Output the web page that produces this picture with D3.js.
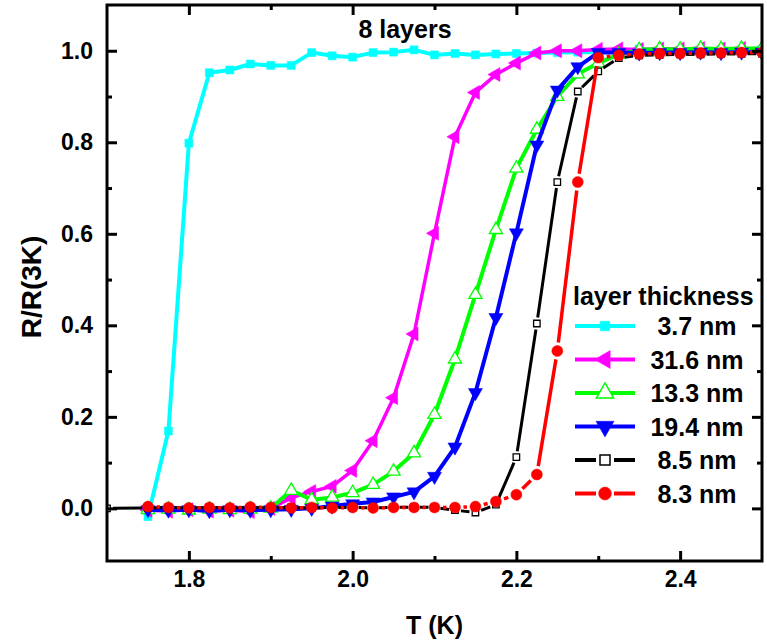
<!DOCTYPE html>
<html><head><meta charset="utf-8">
<script src="https://cdn.jsdelivr.net/npm/d3@7"></script>
<style>
body{margin:0;background:#fff}
svg{display:block}
text{font-family:"Liberation Sans",Arial,sans-serif;font-weight:bold;fill:#000}
</style>
</head><body>
<svg id="c" width="767" height="642"></svg>
<script>
// ---------------- data ----------------
const temps = [1.75,1.775,1.8,1.825,1.85,1.875,1.9,1.925,1.95,1.975,2.0,2.025,2.05,2.075,2.1,2.125,2.15,2.175,2.2,2.225,2.25,2.275,2.3,2.325,2.35,2.375,2.4,2.425,2.45,2.475,2.5];
const tempsBlack = [1.7,1.75,1.775,1.8,1.825,1.85,1.875,1.9,1.925,1.95,1.975,2.0,2.025,2.05,2.075,2.1,2.125,2.15,2.175,2.2,2.225,2.25,2.275,2.3,2.325,2.35,2.375,2.4,2.425,2.45,2.475,2.5];

const r37 = [-0.018,0.169,0.798,0.952,0.958,0.971,0.968,0.968,0.996,0.989,0.986,0.996,0.997,1.002,0.991,0.994,0.991,0.993,0.994,0.995,0.996,0.997,0.997,0.998,1.004,0.999,1.0,1.0,1.002,1.0,1.003];
const r316 = [-0.004,-0.006,-0.003,-0.006,-0.004,-0.007,0.0,0.023,0.037,0.048,0.083,0.148,0.242,0.381,0.601,0.812,0.909,0.948,0.973,0.995,1.0,1.0,1.003,1.004,1.003,1.004,1.004,1.005,1.004,1.005,1.004];
const r133 = [-0.003,-0.002,-0.004,-0.002,-0.003,-0.002,0.0,0.039,0.019,0.024,0.034,0.052,0.081,0.121,0.205,0.326,0.467,0.609,0.743,0.828,0.90,0.949,0.973,0.992,1.002,1.004,1.003,1.005,1.004,1.005,1.005];
const r194 = [-0.003,-0.004,-0.003,-0.005,-0.003,-0.004,-0.003,-0.002,0.0,0.005,0.01,0.014,0.025,0.036,0.07,0.134,0.253,0.417,0.602,0.794,0.914,0.965,0.996,0.996,0.995,0.996,0.996,0.997,0.996,0.997,0.997];
const r85 = [0.0,0.001,0.002,0.001,0.002,0.001,0.002,0.001,0.002,0.001,0.002,0.002,0.001,0.002,0.003,0.002,-0.004,-0.009,0.008,0.112,0.404,0.713,0.911,0.955,0.984,0.990,0.991,0.992,0.992,0.993,0.993,0.994];
const r83 = [0.004,0.002,0.001,0.002,0.001,0.003,0.002,0.001,0.002,0.001,0.002,0.001,0.002,0.002,0.002,0.002,0.004,0.015,0.030,0.074,0.344,0.713,0.985,0.990,0.993,0.994,0.994,0.995,0.995,0.996,0.996];

const seriesNames = ["3.7 nm","31.6 nm","13.3 nm","19.4 nm","8.5 nm","8.3 nm"];
const xTicks = [1.8,2.0,2.2,2.4];
const xMinor = [1.9,2.1,2.3];
const yTicks = [0.0,0.2,0.4,0.6,0.8,1.0];
const yMinor = [0.1,0.3,0.5,0.7,0.9];

// ---------------- setup ----------------
const svg = d3.select('#c');
const L = 107, R = 762, T = 5, B = 561;
const x = d3.scaleLinear().domain([1.7,2.5]).range([L,R]);
const y = d3.scaleLinear().domain([-0.115,1.1]).range([B,T]);

const series = [
  {name:seriesNames[0], t:temps, v:r37,  color:"#00ffff", sym:d3.symbolSquare,   rot:0,   fill:true,  size:64,  lsize:90,  lw:4,   gap:0},
  {name:seriesNames[1], t:temps, v:r316, color:"#ff00ff", sym:d3.symbolTriangle, rot:-90, fill:true,  size:85,  lsize:140, lw:3.5, gap:0},
  {name:seriesNames[2], t:temps, v:r133, color:"#00ff00", sym:d3.symbolTriangle, rot:0,   fill:false, size:75,  lsize:130, lw:4,   gap:0},
  {name:seriesNames[3], t:temps, v:r194, color:"#0000ff", sym:d3.symbolTriangle, rot:180, fill:true,  size:85,  lsize:140, lw:4,   gap:0},
  {name:seriesNames[4], t:tempsBlack, v:r85, color:"#000000", sym:d3.symbolSquare, rot:0, fill:false, size:42, lsize:100, lw:3,   gap:6},
  {name:seriesNames[5], t:temps, v:r83,  color:"#ff0000", sym:d3.symbolCircle,   rot:0,   fill:true,  size:95,  lsize:130, lw:3.5, gap:8.5}
];

svg.append('defs').append('clipPath').attr('id','clip')
  .append('rect').attr('x',L).attr('y',T).attr('width',R-L).attr('height',B-T);

const plot = svg.append('g').attr('clip-path','url(#clip)');

function segs(pts, gap){
  const out = [];
  for(let i=0;i<pts.length-1;i++){
    const [x1,y1]=pts[i],[x2,y2]=pts[i+1];
    const dx=x2-x1, dy=y2-y1, d=Math.hypot(dx,dy);
    if(d<=2*gap) continue;
    const ux=dx/d, uy=dy/d;
    out.push([x1+ux*gap,y1+uy*gap,x2-ux*gap,y2-uy*gap]);
  }
  return out;
}

series.forEach(s=>{
  const pts = s.t.map((t,i)=>[x(t),y(s.v[i])]);
  const g = plot.append('g');
  if(s.gap===0){
    g.append('path').attr('d',d3.line()(pts)).attr('fill','none')
      .attr('stroke',s.color).attr('stroke-width',s.lw).attr('stroke-linejoin','round');
  } else {
    g.selectAll('line').data(segs(pts,s.gap)).join('line')
      .attr('x1',d=>d[0]).attr('y1',d=>d[1]).attr('x2',d=>d[2]).attr('y2',d=>d[3])
      .attr('stroke',s.color).attr('stroke-width',s.lw);
  }
  g.selectAll('path.m').data(pts).join('path').attr('class','m')
    .attr('d',d3.symbol().type(s.sym).size(s.size)())
    .attr('transform',d=>`translate(${d[0]},${d[1]}) rotate(${s.rot})`)
    .attr('fill',s.fill?s.color:'#fff')
    .attr('stroke',s.color).attr('stroke-width',s.fill?0.5:1.3);
});

// ---------------- axes ----------------
function styleAxis(g, fs){
  g.select('.domain').remove();
  g.selectAll('.tick line').attr('stroke','#000').attr('stroke-width',3);
  g.selectAll('.tick text').attr('font-size',fs).attr('font-family','"Liberation Sans",Arial,sans-serif').attr('font-weight','bold');
  g.attr('font-size',null).attr('font-family',null);
}
const fmt = d3.format('.1f');
styleAxis(svg.append('g').attr('transform',`translate(0,${B})`)
  .call(d3.axisBottom(x).tickValues(xTicks).tickSize(-10).tickPadding(10).tickFormat(fmt)), 23);
styleAxis(svg.append('g').attr('transform',`translate(0,${B})`)
  .call(d3.axisBottom(x).tickValues(xMinor).tickSize(-5).tickFormat('')), 0);
styleAxis(svg.append('g').attr('transform',`translate(0,${T})`)
  .call(d3.axisTop(x).tickValues(xTicks).tickSize(-10).tickFormat('')), 0);
styleAxis(svg.append('g').attr('transform',`translate(0,${T})`)
  .call(d3.axisTop(x).tickValues(xMinor).tickSize(-5).tickFormat('')), 0);
styleAxis(svg.append('g').attr('transform',`translate(${L},0)`)
  .call(d3.axisLeft(y).tickValues(yTicks).tickSize(-10).tickPadding(14).tickFormat(fmt)), 23);
styleAxis(svg.append('g').attr('transform',`translate(${L},0)`)
  .call(d3.axisLeft(y).tickValues(yMinor).tickSize(-5).tickFormat('')), 0);
styleAxis(svg.append('g').attr('transform',`translate(${R},0)`)
  .call(d3.axisRight(y).tickValues(yTicks).tickSize(-10).tickFormat('')), 0);
styleAxis(svg.append('g').attr('transform',`translate(${R},0)`)
  .call(d3.axisRight(y).tickValues(yMinor).tickSize(-5).tickFormat('')), 0);

svg.append('rect').attr('x',L).attr('y',T).attr('width',R-L).attr('height',B-T)
  .attr('fill','none').attr('stroke','#000').attr('stroke-width',3);

// ---------------- titles ----------------
svg.append('text').attr('x',(L+R)/2).attr('y',634).attr('text-anchor','middle')
  .attr('font-size',25).text('T (K)');
svg.append('text').attr('transform','translate(41,287) rotate(-90)').attr('text-anchor','middle')
  .attr('font-size',28).text('R/R(3K)');
svg.append('text').attr('x',405).attr('y',38).attr('text-anchor','middle')
  .attr('font-size',25).text('8 layers');

// ---------------- legend ----------------
const lg = svg.append('g');
lg.append('text').attr('x',573).attr('y',305).attr('font-size',25).text('layer thickness');
series.forEach((s,i)=>{
  const cy = 326 + i*33.5;
  const gg = lg.append('g');
  const lgap = s.gap ? 9 : 0;
  gg.append('line').attr('x1',575).attr('x2',605-lgap).attr('y1',cy).attr('y2',cy)
    .attr('stroke',s.color).attr('stroke-width',4);
  gg.append('line').attr('x1',605+lgap).attr('x2',635).attr('y1',cy).attr('y2',cy)
    .attr('stroke',s.color).attr('stroke-width',4);
  gg.append('path').attr('d',d3.symbol().type(s.sym).size(s.lsize)())
    .attr('transform',`translate(605,${cy}) rotate(${s.rot})`)
    .attr('fill',s.fill?s.color:'#fff').attr('stroke',s.color).attr('stroke-width',s.fill?0.5:1.5);
  gg.append('text').attr('x',697).attr('y',cy+9).attr('text-anchor','middle')
    .attr('font-size',25).text(s.name);
});
</script>
</body></html>
